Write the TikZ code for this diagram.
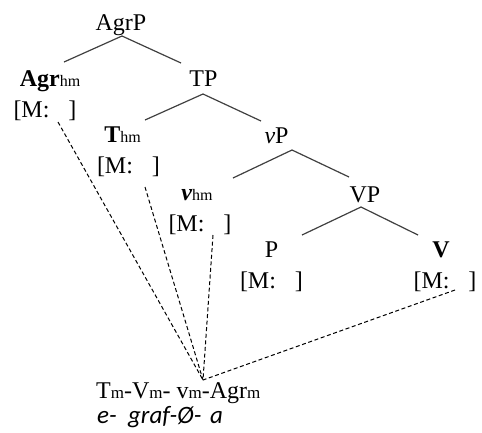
\documentclass[tikz,border=0pt]{standalone}
\usepackage{fontspec}
\setmainfont{Liberation Serif}
\newfontfamily\glossfont{Carlito}
\newcommand{\sbs}[1]{{\fontsize{16pt}{16pt}\selectfont #1}}
\newcommand{\sbm}[1]{{\fontsize{17pt}{17pt}\selectfont #1}}
\newcommand{\mslot}{[M:\hspace{19pt}]}
\begin{document}
\begin{tikzpicture}[x=1pt,y=-1pt,
  lbl/.style={inner sep=0pt,anchor=base,font=\fontsize{24pt}{27pt}\selectfont},
  branch/.style={draw=black!75,line width=1.2pt},
  link/.style={draw=black,line width=1pt,dash pattern=on 4pt off 2.6pt}]
\useasboundingbox (0,0) rectangle (482,432);
% tree labels
\node[lbl] (agrp) at (121,30) {AgrP};
\node[lbl] (agr) at (50,86) {\textbf{Agr}\sbs{hm}};
\node[lbl] (agrm) at (45,117) {\mslot};
\node[lbl] (tp) at (203.5,86) {TP};
\node[lbl] (t) at (122.5,142) {\textbf{T}\sbs{hm}};
\node[lbl] (tm) at (128.5,173) {\mslot};
\node[lbl] (vp) at (276.5,143) {\textit{v}P};
\node[lbl] (v) at (197,200) {\textbf{\textit{v}}\sbs{hm}};
\node[lbl] (vm) at (200,231) {\mslot};
\node[lbl] (bigvp) at (365,202) {VP};
\node[lbl] (p) at (271.5,257) {P};
\node[lbl] (pm) at (271.5,288) {\mslot};
\node[lbl] (bigv) at (441,257) {\textbf{V}};
\node[lbl] (bigvm) at (445,288) {\mslot};
\node[lbl,anchor=base west] (word) at (96,398) {T\sbm{m}-V\sbm{m}- v\sbm{m}-Agr\sbm{m}};
\node[lbl,anchor=base west,font=\fontsize{25pt}{28pt}\selectfont] (gloss) at (97,423) {\glossfont\itshape e-\ \ graf-Ø-\hspace{3pt} a};
% branch end points
\coordinate (agrp-b) at (122,36);
\coordinate (agr-t) at (64,62);
\coordinate (tp-t) at (181,63);
\coordinate (tp-b) at (203,94);
\coordinate (t-t) at (145,120);
\coordinate (vp-t) at (261,121);
\coordinate (vp-b) at (292,150);
\coordinate (v-t) at (233,178);
\coordinate (bigvp-t) at (349,177);
\coordinate (bigvp-b) at (361,207);
\coordinate (p-t) at (302,235);
\coordinate (bigv-t) at (418,235);
\draw[branch] (agr-t) -- (agrp-b) -- (tp-t);
\draw[branch] (t-t) -- (tp-b) -- (vp-t);
\draw[branch] (v-t) -- (vp-b) -- (bigvp-t);
\draw[branch] (p-t) -- (bigvp-b) -- (bigv-t);
% dashed links
\coordinate (join) at (203,380);
\coordinate (agrm-b) at (58,122);
\coordinate (tm-b) at (145,187);
\coordinate (vm-b) at (213,235);
\coordinate (bigvm-b) at (455,290);
\draw[link] (agrm-b) -- (join);
\draw[link] (tm-b) -- (join);
\draw[link] (vm-b) -- (join);
\draw[link] (bigvm-b) -- (join);
\end{tikzpicture}
\end{document}
